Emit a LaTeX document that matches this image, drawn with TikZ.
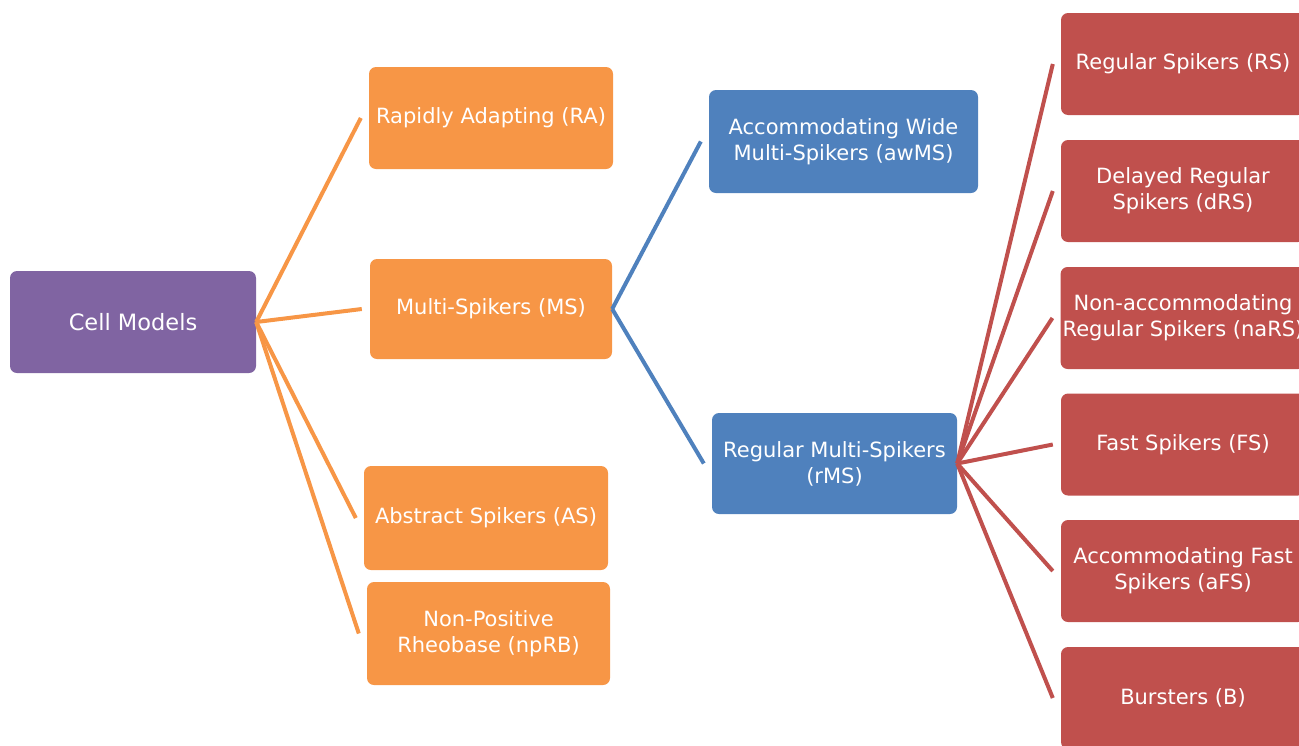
\documentclass[tikz,border=0pt]{standalone}
\usepackage{fontspec}
\setmainfont{DejaVu Sans}
\definecolor{cpurple}{HTML}{8064A2}
\definecolor{corange}{HTML}{F79646}
\definecolor{cblue}{HTML}{4F81BD}
\definecolor{cred}{HTML}{C0504D}
\tikzset{
  box/.style={rounded corners=7pt, text=white, align=center, inner sep=2pt,
    minimum width=244pt, minimum height=102pt, font=\fontsize{21}{26}\selectfont},
  obox/.style={box, fill=corange},
  bbox/.style={box, fill=cblue},
  rbox/.style={box, fill=cred},
  olink/.style={draw=corange, line width=4pt},
  blink/.style={draw=cblue, line width=4pt},
  rlink/.style={draw=cred, line width=4pt},
}
\begin{document}
\begin{tikzpicture}[x=1pt,y=-1pt]
\useasboundingbox (0,0) rectangle (1299,745);
\clip (0,0) rectangle (1299,745);
\node[box, fill=cpurple, minimum width=246pt, font=\fontsize{22.5}{26}\selectfont] (cm) at (133,322) {Cell Models};
\node[obox] (ra) at (491,118) {Rapidly Adapting (RA)};
\node[obox, minimum width=242pt, minimum height=100pt] (ms) at (491,309) {Multi-Spikers (MS)};
\node[obox, minimum height=104pt] (as) at (486,518) {Abstract Spikers (AS)};
\node[obox, minimum width=243pt, minimum height=103pt] (nprb) at (488.5,633.5) {Non-Positive\\Rheobase (npRB)};
\node[bbox, minimum width=269pt, minimum height=103pt] (awms) at (843.5,141.5) {Accommodating Wide\\Multi-Spikers (awMS)};
\node[bbox, minimum width=245pt, minimum height=101pt] (rms) at (834.5,463.5) {Regular Multi-Spikers\\(rMS)};
\node[rbox] (rs) at (1183,64) {Regular Spikers (RS)};
\node[rbox] (drs) at (1183,191) {Delayed Regular\\Spikers (dRS)};
\node[rbox] (nars) at (1183,318) {Non-accommodating\\Regular Spikers (naRS)};
\node[rbox] (fs) at (1183,444.5) {Fast Spikers (FS)};
\node[rbox] (afs) at (1183,571) {Accommodating Fast\\Spikers (aFS)};
\node[rbox] (b) at (1183,698) {Bursters (B)};
\foreach \t in {ra,ms,as,nprb}
  \draw[olink] (cm.east) -- ([xshift=-8pt]\t.west);
\foreach \t in {awms,rms}
  \draw[blink] (ms.east) -- ([xshift=-8pt]\t.west);
\foreach \t in {rs,drs,nars,fs,afs,b}
  \draw[rlink] (rms.east) -- ([xshift=-8pt]\t.west);
\end{tikzpicture}
\end{document}
